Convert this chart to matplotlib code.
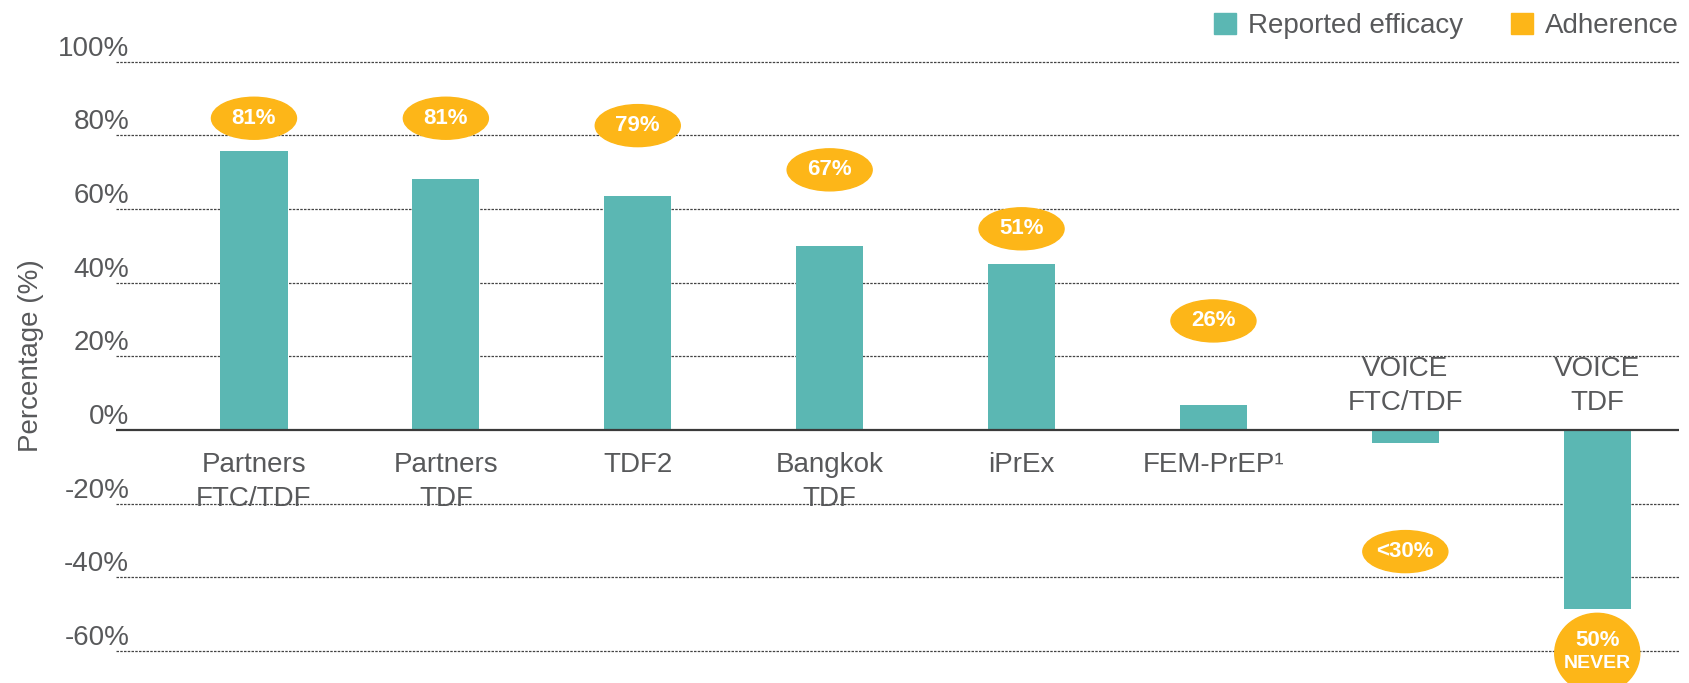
import numpy as np
import matplotlib
matplotlib.use('Agg')
import matplotlib.pyplot as plt
from matplotlib.patches import Ellipse, Patch
from matplotlib.transforms import ScaledTranslation

plt.rcParams['font.family'] = ['Liberation Sans', 'DejaVu Sans']

# Data.
studies = ['Partners\nFTC/TDF', 'Partners\nTDF', 'TDF2', 'Bangkok\nTDF', 'iPrEx',
           'FEM-PrEP\u00b9', 'VOICE\nFTC/TDF', 'VOICE\nTDF']
efficacy = [75.7, 68.0, 63.5, 50.0, 45.0, 6.7, -3.4, -48.6]
adherence = [81, 81, 79, 67, 51, 26, 30, 50]
adherence_text = ['81%', '81%', '79%', '67%', '51%', '26%', '<30%', '50%']
y_ticks = [100, 80, 60, 40, 20, 0, -20, -40, -60]

TEAL = '#5bb7b3'
ORANGE = '#fdb618'
GREY = '#58595b'
FS = 20

fig = plt.figure(figsize=(16.89, 6.83), dpi=100)
ax = fig.add_axes([116 / 1689, 0, 1563 / 1689, 1])
ax.set_xlim(-0.719, 7.426)
ax.set_ylim(-68.66, 116.69)

x = np.arange(len(studies))

# Gridlines behind the bars.
for t in y_ticks:
    if t == 0:
        continue
    ax.axhline(t, color='#444444', lw=0.9, ls=(0, (2, 1)), zorder=0)

ax.bar(x, efficacy, width=0.35, color=TEAL, zorder=2)
ax.axhline(0, color='#3a3a3a', lw=1.6, zorder=3)

# Adherence bubbles.
bubble_y = [a + 3.6 for a in adherence[:6]] + [-33.0, -60.6]
for i, (by, txt) in enumerate(zip(bubble_y, adherence_text)):
    big = i == len(studies) - 1
    h = 21.7 if big else 11.4
    ax.add_patch(Ellipse((x[i], by), 0.443, h, color=ORANGE, zorder=4))
    if big:
        ax.text(x[i], by + 3.5, txt, ha='center', va='center', color='white',
                fontsize=16, fontweight='bold', zorder=5)
        ax.text(x[i], by - 2.8, 'NEVER', ha='center', va='center', color='white',
                fontsize=14, fontweight='bold', zorder=5)
    else:
        ax.text(x[i], by, txt, ha='center', va='center', color='white',
                fontsize=16, fontweight='bold', zorder=5)

# Category labels: below the zero line, above it for negative bars.
for i, name in enumerate(studies):
    if efficacy[i] < 0:
        ax.annotate(name, (x[i], 0), xytext=(0, 14), textcoords='offset pixels',
                    ha='center', va='bottom', fontsize=FS, color=GREY,
                    linespacing=1.4, zorder=6)
    else:
        ax.annotate(name, (x[i], 0), xytext=(0, -22), textcoords='offset pixels',
                    ha='center', va='top', fontsize=FS, color=GREY,
                    linespacing=1.4, zorder=6)

# Y tick labels sit above their gridlines.
ax.set_yticks(y_ticks)
ax.set_yticklabels(['{}%'.format(t) for t in y_ticks], fontsize=FS, color=GREY)
ax.tick_params(axis='y', length=0, pad=-9.5)
for lab in ax.get_yticklabels():
    lab.set_transform(lab.get_transform() + ScaledTranslation(0, 0.16, fig.dpi_scale_trans))
ax.set_xticks([])
for s in ax.spines.values():
    s.set_visible(False)
ax.patch.set_alpha(0)

ax.set_ylabel('Percentage (%)', fontsize=FS, color=GREY)
ax.yaxis.set_label_coords(-0.046, 0.48)

handles = [Patch(color=TEAL, label='Reported efficacy'),
           Patch(color=ORANGE, label='Adherence')]
ax.legend(handles=handles, loc='upper right', bbox_to_anchor=(1.0, 1 - 13 / 683), ncol=2,
          frameon=False, fontsize=FS, handlelength=0.79, handleheight=0.79,
          handletextpad=0.43, columnspacing=1.75, borderpad=0, borderaxespad=0,
          labelcolor=GREY)

fig.savefig('out.png', dpi=100)
